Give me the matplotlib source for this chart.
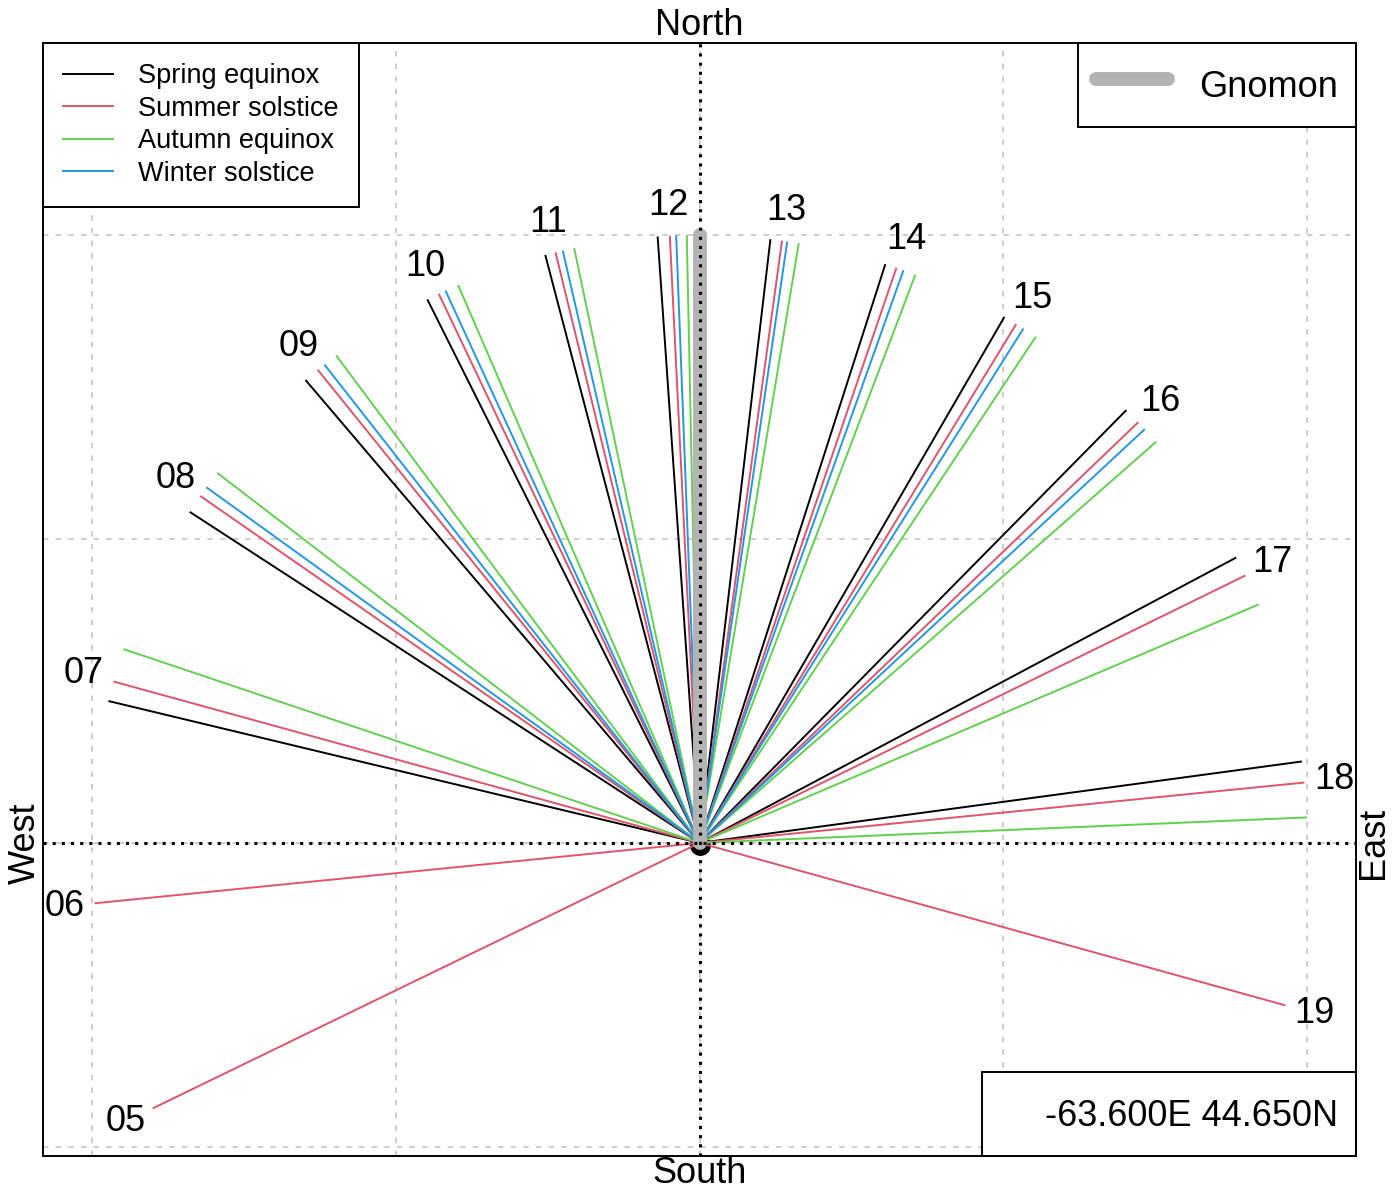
import numpy as np
import matplotlib
matplotlib.use("Agg")
import matplotlib.pyplot as plt
from matplotlib.lines import Line2D

plt.rcParams['font.family'] = ['Liberation Sans', 'DejaVu Sans']

# shadow directions (degrees from north, positive towards east), unit length
spring_hours = ["07", "08", "09", "10", "11", "12", "13", "14", "15", "16", "17", "18"]
spring_az = [-76.5, -57.0, -40.4, -26.6, -14.7, -3.95, 6.7, 17.8, 30.1, 44.6, 62.0, 82.3]

summer_hours = ["05", "06", "07", "08", "09", "10", "11", "12", "13", "14", "15", "16", "17", "18", "19"]
summer_az = [-115.9, -95.7, -74.6, -55.2, -38.9, -25.4, -13.7, -2.8, 7.8, 18.9, 31.4, 46.2, 63.9, 84.3, 105.5]

autumn_hours = ["07", "08", "09", "10", "11", "12", "13", "14", "15", "16", "17", "18"]
autumn_az = [-71.4, -52.5, -36.7, -23.4, -11.9, -1.2, 9.4, 20.8, 33.6, 48.7, 66.9, 87.6]

winter_hours = ["08", "09", "10", "11", "12", "13", "14", "15", "16"]
winter_az = [-54.2, -38.1, -24.7, -13.0, -2.2, 8.3, 19.6, 32.2, 47.1]

seasons = ["Spring equinox", "Summer solstice", "Autumn equinox", "Winter solstice"]
colors = ["#000000", "#DF536B", "#61D04F", "#2297E6"]

gnomon_length = 1.0
location = "-63.600E 44.650N"

fig = plt.figure(figsize=(14, 12), dpi=100)
ax = fig.add_axes([0.0307, 0.0367, 0.9379, 0.9275])
ax.set_xlim(-1.08, 1.08)
ax.set_ylim(-0.515, 1.316)

ax.set_xticks([-1, -0.5, 0, 0.5, 1])
ax.set_yticks([-0.5, 0, 0.5, 1])
ax.tick_params(length=0, labelbottom=False, labelleft=False)
ax.grid(True, color="#c8c8c8", linestyle=(0, (3, 4)), linewidth=1.3)
for s in ax.spines.values():
    s.set_linewidth(1.4)

# gnomon base
ax.plot([0], [-0.004], "o", color="black", markersize=15, markeredgewidth=0, zorder=2)

# hour lines
data = [(spring_az, colors[0]), (summer_az, colors[1]), (autumn_az, colors[2]), (winter_az, colors[3])]
for az, col in data:
    a = np.radians(az)
    for ang in a:
        ax.plot([0, np.sin(ang)], [0, np.cos(ang)], color=col, linewidth=1.4,
                solid_capstyle="butt", zorder=3)

# hour labels along the summer line
for h, ang in zip(summer_hours, np.radians(summer_az)):
    ax.text(1.05 * np.sin(ang), 1.05 * np.cos(ang), h, fontsize=26,
            ha="center", va="center", zorder=5)

# gnomon and cardinal axes
ax.plot([0, 0], [0, gnomon_length], color="#B3B3B3", linewidth=10,
        solid_capstyle="round", zorder=4)
ax.axhline(0, color="black", linestyle=(0, (1, 2)), linewidth=2.2, zorder=4.5)
ax.axvline(0, color="black", linestyle=(0, (1, 2)), linewidth=2.2, zorder=4.5)

ax.text(0, 1.0, "North", transform=ax.get_xaxis_transform(), fontsize=26,
        ha="center", va="bottom")
ax.text(0, 0.0, "South", transform=ax.get_xaxis_transform(), fontsize=26,
        ha="center", va="top")
ax.text(0, 0, "West", transform=ax.get_yaxis_transform(), fontsize=26,
        ha="right", va="center", rotation=90)
ax.text(1.0, 0, "East", transform=ax.get_yaxis_transform(), fontsize=26,
        ha="left", va="center", rotation=90)

# legends
handles = [Line2D([], [], color=c, linewidth=1.4) for c in colors]
leg1 = ax.legend(handles, seasons, loc="upper left", fontsize=19.5, borderaxespad=0,
                 fancybox=False, edgecolor="black", framealpha=1, handlelength=1.85,
                 handletextpad=0.9, borderpad=0.75, labelspacing=0.24)
leg1.get_frame().set_linewidth(1.4)
ax.add_artist(leg1)

gh = Line2D([], [], color="#B3B3B3", linewidth=10, solid_capstyle="round")
leg2 = ax.legend([gh], ["Gnomon"], loc="upper right", fontsize=26, borderaxespad=0,
                 fancybox=False, edgecolor="black", framealpha=1, handlelength=2.0,
                 handletextpad=0.85, borderpad=0.5, handleheight=1.65)
leg2.get_frame().set_linewidth(1.4)
ax.add_artist(leg2)

nh = Line2D([], [], color="none")
leg3 = ax.legend([nh], [location], loc="lower right", fontsize=26, borderaxespad=0,
                 fancybox=False, edgecolor="black", framealpha=1, handlelength=0.75,
                 handletextpad=0.5, borderpad=0.5, handleheight=1.65)
leg3.get_frame().set_linewidth(1.4)

fig.savefig("out.png", dpi=100)
